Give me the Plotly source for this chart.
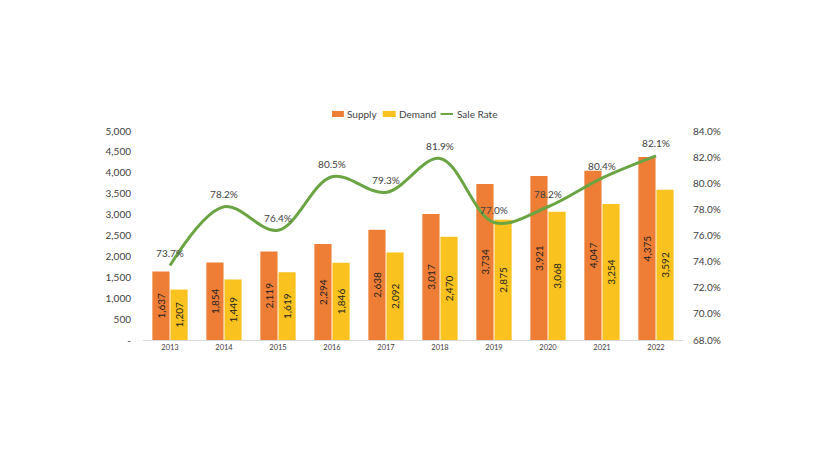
import plotly.graph_objects as go

years = ["2013", "2014", "2015", "2016", "2017", "2018", "2019", "2020", "2021", "2022"]
supply = [1637, 1854, 2119, 2294, 2638, 3017, 3734, 3921, 4047, 4375]
demand = [1207, 1449, 1619, 1846, 2092, 2470, 2875, 3068, 3254, 3592]
sale_rate = [0.737, 0.782, 0.764, 0.805, 0.793, 0.819, 0.770, 0.782, 0.804, 0.821]

left_ticks = [0, 500, 1000, 1500, 2000, 2500, 3000, 3500, 4000, 4500, 5000]
left_ticktext = ["-"] + [f"{v:,}" for v in left_ticks[1:]]
right_ticks = [0.68, 0.70, 0.72, 0.74, 0.76, 0.78, 0.80, 0.82, 0.84]

FONT = "Lato, 'Open Sans', sans-serif"
SUPPLY_COLOR = "#EE7D35"
DEMAND_COLOR = "#F9C21E"
RATE_COLOR = "#6AA443"
TEXT = "#404040"

fig = go.Figure()
fig.add_trace(go.Bar(
    x=years, y=supply, name="Supply",
    marker=dict(color=SUPPLY_COLOR, line=dict(width=0)),
    text=[f"{v:,}" for v in supply], textposition="inside",
    insidetextanchor="middle", textangle=-90,
    textfont=dict(color="#222222", size=10, family=FONT),
))
fig.add_trace(go.Bar(
    x=years, y=demand, name="Demand",
    marker=dict(color=DEMAND_COLOR, line=dict(width=0)),
    text=[f"{v:,}" for v in demand], textposition="inside",
    insidetextanchor="middle", textangle=-90,
    textfont=dict(color="#222222", size=10, family=FONT),
))
fig.add_trace(go.Scatter(
    x=years, y=sale_rate, name="Sale Rate", yaxis="y2",
    mode="lines+markers+text",
    line=dict(color=RATE_COLOR, width=3, shape="spline", smoothing=1.0),
    marker=dict(size=8, color="rgba(0,0,0,0)"),
    text=[f"{v*100:.1f}%" for v in sale_rate], textposition="top center",
    textfont=dict(color=TEXT, size=10, family=FONT),
))

# custom compact legend (top centre)
leg_y0, leg_y1, leg_yc = 1.067, 1.096, 1.0815
shapes = [
    dict(type="rect", xref="paper", yref="paper", x0=0.350, x1=0.372, y0=leg_y0, y1=leg_y1,
         fillcolor=SUPPLY_COLOR, line=dict(width=0)),
    dict(type="rect", xref="paper", yref="paper", x0=0.444, x1=0.468, y0=leg_y0, y1=leg_y1,
         fillcolor=DEMAND_COLOR, line=dict(width=0)),
    dict(type="line", xref="paper", yref="paper", x0=0.551, x1=0.574, y0=leg_yc, y1=leg_yc,
         line=dict(color=RATE_COLOR, width=2)),
]
annotations = [
    dict(text="Supply", xref="paper", yref="paper", x=0.374, y=leg_yc, xanchor="left",
         yanchor="middle", showarrow=False, font=dict(size=10, color=TEXT, family=FONT)),
    dict(text="Demand", xref="paper", yref="paper", x=0.471, y=leg_yc, xanchor="left",
         yanchor="middle", showarrow=False, font=dict(size=10, color=TEXT, family=FONT)),
    dict(text="Sale Rate", xref="paper", yref="paper", x=0.577, y=leg_yc, xanchor="left",
         yanchor="middle", showarrow=False, font=dict(size=10, color=TEXT, family=FONT)),
]

fig.update_layout(
    width=825, height=464,
    paper_bgcolor="white", plot_bgcolor="white",
    margin=dict(l=143, r=142, t=131, b=124),
    barmode="group", bargap=0.33, bargroupgap=0.05,
    uniformtext=dict(minsize=10, mode="show"),
    font=dict(family=FONT, color=TEXT, size=10),
    showlegend=False,
    shapes=shapes, annotations=annotations,
    xaxis=dict(range=[-0.5, len(years) - 0.5], showgrid=False, showline=True,
               linecolor="#D9D9D9", linewidth=1,
               tickfont=dict(size=7.5, color=TEXT), ticks=""),
    yaxis=dict(range=[0, 5000], tickvals=left_ticks, ticktext=left_ticktext,
               showgrid=False, zeroline=False, tickfont=dict(size=10, color=TEXT),
               ticklabelstandoff=11),
    yaxis2=dict(range=[0.68, 0.84], tickvals=right_ticks, tickformat=".1%",
                overlaying="y", side="right", showgrid=False, zeroline=False,
                tickfont=dict(size=10, color=TEXT), ticklabelstandoff=9),
)

fig.write_html("out.html", config={"displayModeBar": False},
               post_script="document.body.style.margin='0';")
